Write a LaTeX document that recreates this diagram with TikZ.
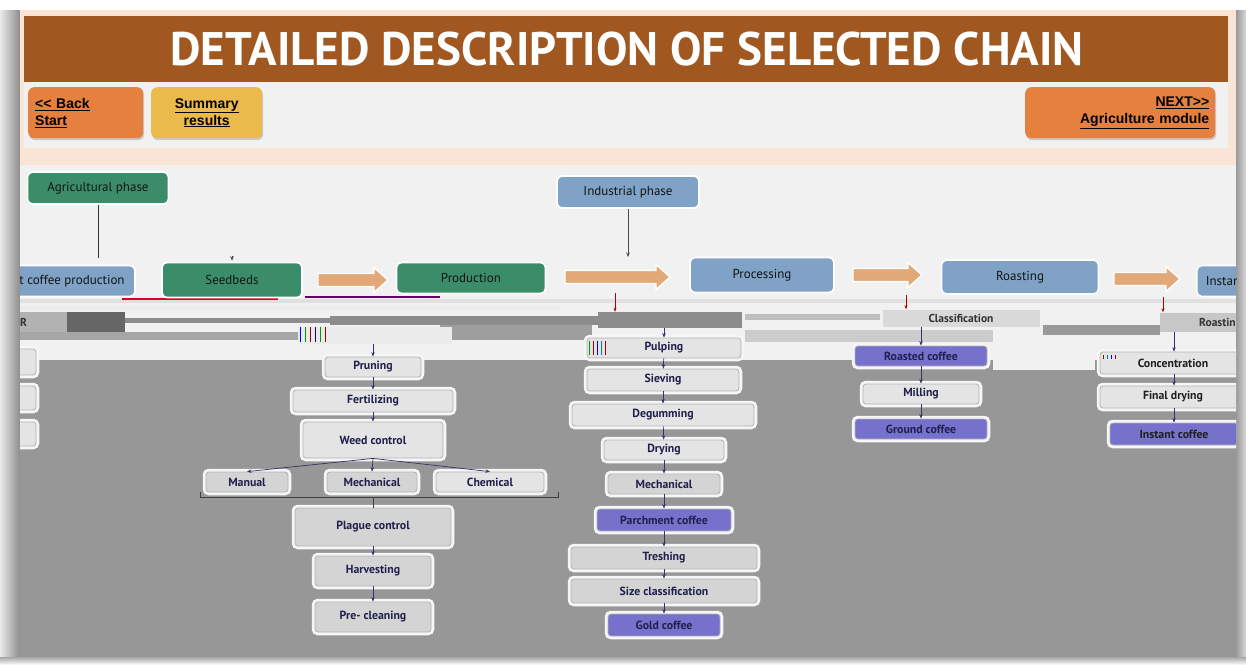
\documentclass[tikz,border=0pt]{standalone}
\usepackage{graphicx}
\usepackage{fontspec}
\setmainfont{PT Sans}
\newfontfamily\btnfont{Liberation Sans}
\usetikzlibrary{arrows.meta,shadows}

\definecolor{titlebrown}{HTML}{A15720}
\definecolor{peach}{HTML}{F9E4D6}
\definecolor{paper}{HTML}{F1F1F1}
\definecolor{lowgray}{HTML}{979797}
\definecolor{agrigreen}{HTML}{3B8D69}
\definecolor{indblue}{HTML}{7FA2C6}
\definecolor{arrowtan}{HTML}{E3A878}
\definecolor{prodpurple}{HTML}{7672CC}
\definecolor{stepgray}{HTML}{E4E4E4}
\definecolor{navytext}{HTML}{20204E}
\definecolor{btnorange}{HTML}{E6803F}
\definecolor{btnyellow}{HTML}{EBBA4C}
\definecolor{linknavy}{HTML}{34346A}
\definecolor{glowwhite}{HTML}{F6F6F6}

\newcommand\tanarrow[3]{% x-start, x-tip, y-centre
  \filldraw[fill=arrowtan, draw=white, line width=1.4pt, line join=miter]
    (#1,#3-6.5) -- (#2-14,#3-6.5) -- (#2-14,#3-12.5) -- (#2,#3)
    -- (#2-14,#3+12.5) -- (#2-14,#3+6.5) -- (#1,#3+6.5) -- cycle;}

\tikzset{
  dims/.style 2 args={minimum width=#1pt, minimum height=#2pt},
  phasebox/.style={rounded corners=5pt, draw=white, line width=1.6pt, inner sep=0pt,
    text=black!92, font=\fontsize{13}{15}\selectfont},
  greenbox/.style={phasebox, fill=agrigreen},
  bluebox/.style={phasebox, fill=indblue},
  stepbox/.style={rounded corners=3pt, fill=stepgray, draw=black!30, line width=0.8pt,
    inner sep=0pt, text=navytext, font=\bfseries\fontsize{11.8}{13}\selectfont,
    preaction={draw=glowwhite, line width=6.5pt}},
  darkstep/.style={stepbox, fill=black!17},
  prodbox/.style={stepbox, fill=prodpurple},
  button/.style={rounded corners=6pt, inner sep=0pt, align=left,
    font=\btnfont\bfseries\fontsize{14}{17}\selectfont,
    drop shadow={opacity=0.35, shadow xshift=1pt, shadow yshift=-2pt}},
  conn/.style={draw=linknavy, line width=0.7pt, -{Stealth[length=4.5pt,width=3.5pt]}},
  redconn/.style={draw=red!70!black, line width=0.7pt, -{Stealth[length=4pt,width=3pt]}},
  glitch/.style={inner sep=0pt, font=\bfseries\fontsize{11.5}{12}\selectfont, text=black!80},
}

\begin{document}
\begin{tikzpicture}[x=1pt,y=-1pt]
\useasboundingbox (0,0) rectangle (1246,665);

% page, shadow and frame
\fill[white] (0,0) rectangle (1246,665);
\shade[left color=black!8, right color=black!45] (0,10) rectangle (20,660);
\shade[left color=black!40, right color=black!15] (1236,10) rectangle (1246,660);
\shade[top color=black!35, bottom color=white] (0,657) rectangle (1246,665);
\fill[peach] (20,10) rectangle (1236,165);

% title bar and navigation strip
\fill[titlebrown] (24,16) rectangle (1228,82);
\fill[paper] (24,82) rectangle (1228,148);
\node[text=white, inner sep=0pt] (title) at (627,49)
  {\resizebox{913pt}{!}{\bfseries DETAILED DESCRIPTION OF SELECTED CHAIN}};

\node[button, fill=btnorange, dims={115}{51}, anchor=north west, text width=101pt]
  (back) at (28,87) {\underline{<{}< Back}\\\underline{Start}};
\node[button, fill=btnyellow, dims={111}{51}, anchor=north west, align=center]
  (summary) at (151,87) {\underline{Summary}\\\underline{results}};
\node[button, fill=btnorange, dims={190}{51}, anchor=north west, text width=178pt, align=right]
  (next) at (1025,87) {\underline{NEXT>{}>}\\\underline{Agriculture module}};

% chain area
\begin{scope}
\clip (20,165) rectangle (1236,657);
\fill[paper] (20,165) rectangle (1236,657);
\fill[lowgray] (20,360) rectangle (993,657);
\fill[lowgray] (993,370) rectangle (1095,657);
\fill[lowgray] (1095,360) rectangle (1236,657);

% scan-line bands below the main row
\fill[black!12] (20,299) rectangle (1236,303);
\fill[black!8] (20,306) rectangle (560,310);
\fill[black!30] (20,312) rectangle (67,332);
\fill[black!60] (67,312) rectangle (125,332);
\fill[black!45] (125,318) rectangle (330,323);
\fill[black!45] (330,316) rectangle (598,325);
\fill[black!38] (440,325) rectangle (592,340);
\fill[black!35] (20,332) rectangle (300,340);
\fill[black!25] (745,314) rectangle (880,320);
\fill[black!40] (1043,325) rectangle (1160,335);
\fill[black!20] (745,330) rectangle (993,342);
\draw[red!40!purple, line width=1.5pt] (122,299) -- (278,299);
\draw[violet!80!black, line width=1.5pt] (305,297) -- (440,297);
\node[glitch, anchor=west] (rmark) at (20,322) {R};

% partly hidden steps of the column on the far left
\node[stepbox, dims={112}{26}] (leftA) at (-20,362) {};
\node[stepbox, dims={112}{24}] (leftB) at (-20,398) {};
\node[stepbox, dims={112}{24}] (leftC) at (-20,434) {};

% phase headers
\node[greenbox, dims={141}{32}] (agri) at (98,188) {Agricultural phase};
\node[bluebox, dims={142}{32}] (ind) at (628,192) {Industrial phase};

% main chain
\node[bluebox, dims={126}{31}] (instprod) at (72,281) {t coffee production};
\node[greenbox, dims={140}{35}] (seed) at (232,280) {Seedbeds};
\node[greenbox, dims={149}{31}] (prod) at (471,278) {Production};
\node[bluebox, dims={144}{35}] (proc) at (762,275) {Processing};
\node[bluebox, dims={157}{34}] (roast) at (1020,277) {Roasting};
\node[bluebox, dims={64}{31}, anchor=west, text width=58pt, align=left] (inst) at (1196,281) {\hspace*{6pt}Instan};
\tanarrow{318}{388}{280}
\tanarrow{565}{670}{277}
\tanarrow{853}{922}{275}
\tanarrow{1114}{1180}{279}

\coordinate (agritop) at (98,258);
\coordinate (indtop) at (628,257);
\coordinate (seedtop) at (232,256);
\draw[draw=black!80, line width=0.7pt] (agri.south) -- (agritop);
\draw[conn, draw=black!70] (ind.south) -- (indtop);
\draw[conn, draw=black!70, shorten >=1pt] (seedtop) -- (seed.north);

% first-step bars under the chain
\node[glitch, fill=black!8, dims={154}{17}] (agrig) at (375,335) {};
\foreach \x/\c in {300/blue,305/green!60!black,310/red!60!black,315/blue!80!black,320/green!60!black,325/red!60!black}
  \draw[\c, line width=0.8pt] (\x,327) -- (\x,342);
\node[glitch, fill=black!45, dims={144}{16}] (procg) at (670,320) {};
\node[glitch, fill=black!15, dims={157}{17}] (class) at (961,318) {Classification};
\node[glitch, fill=black!22, dims={90}{19}, anchor=west, text width=84pt, align=left] (roastin) at (1160,322) {\hspace*{36pt}Roastin};

\coordinate (rA) at (615,0);
\coordinate (rB) at (906,0);
\coordinate (rC) at (1163,0);
\draw[redconn] (proc.south -| rA) -- (procg.north -| rA);
\draw[redconn] (roast.south -| rB) -- (class.north -| rB);
\draw[redconn] (inst.south -| rC) -- (roastin.north -| rC);

% agricultural steps
\node[stepbox, dims={96}{20}] (prun) at (373,367) {Pruning};
\node[stepbox, dims={160}{22}] (fert) at (373,401) {Fertilizing};
\node[stepbox, dims={140}{36}] (weed) at (373,440) {Weed control};
\node[darkstep, dims={82}{20}] (man) at (247,482) {Manual};
\node[darkstep, dims={90}{20}] (mech1) at (372,482) {Mechanical};
\node[stepbox, dims={108}{20}] (chem) at (490,482) {Chemical};
\node[darkstep, dims={156}{38}] (plague) at (373,527) {Plague control};
\node[darkstep, dims={116}{30}] (harv) at (373,571) {Harvesting};
\node[darkstep, dims={116}{30}] (prec) at (373,617) {Pre- cleaning};

\draw[conn] (prun.north |- agrig.south) -- (prun.north);
\draw[conn] (prun) -- (fert);
\draw[conn] (fert) -- (weed);
\draw[conn] (weed.south) -- (man.north);
\draw[conn] (weed.south) -- (mech1.north);
\draw[conn] (weed.south) -- (chem.north);
\coordinate (brL) at (200,497);
\coordinate (brR) at (558,497);
\draw[draw=black!75, line width=0.7pt] (brL) ++(0,-5) -- (brL) -- (brR) -- ++(0,-5);
\draw[draw=black!75, line width=1pt] (plague.north |- brL) -- (plague.north);
\draw[conn] (plague) -- (harv);
\draw[conn] (harv) -- (prec);

% processing steps
\node[stepbox, dims={154}{20}] (pulp) at (664,348) {Pulping};
\foreach \x/\c in {589/green!60!black,593/red!60!black,597/blue,601/teal,605/red!60!black}
  \draw[\c, line width=0.8pt] (\x,341) -- (\x,355);
\node[stepbox, dims={152}{22}] (siev) at (663,380) {Sieving};
\node[stepbox, dims={182}{22}] (degum) at (663,415) {Degumming};
\node[stepbox, dims={120}{20}] (dry) at (664,450) {Drying};
\node[darkstep, dims={112}{20}] (mech2) at (664,484) {Mechanical};
\node[prodbox, dims={134}{22}] (parch) at (664,520) {Parchment coffee};
\node[darkstep, dims={186}{22}] (tresh) at (664,558) {Treshing};
\node[darkstep, dims={186}{24}] (sizec) at (664,591) {Size classification};
\node[prodbox, dims={112}{22}] (gold) at (664,625) {Gold coffee};

\draw[conn] (pulp.north |- procg.south) -- (pulp.north);
\draw[conn] (pulp) -- (siev);
\draw[conn] (siev) -- (degum);
\draw[conn] (degum) -- (dry);
\draw[conn] (dry) -- (mech2);
\draw[conn] (mech2) -- (parch);
\draw[conn] (parch) -- (tresh);
\draw[conn] (tresh) -- (sizec);
\draw[conn] (sizec) -- (gold);

% roasting steps
\node[prodbox, dims={132}{20}] (roasted) at (921,356) {Roasted coffee};
\node[stepbox, dims={116}{20}] (mill) at (921,394) {Milling};
\node[prodbox, dims={132}{20}] (ground) at (921,429) {Ground coffee};
\draw[conn] (roasted.north |- class.south) -- (roasted.north);
\draw[conn] (roasted) -- (mill);
\draw[conn] (mill) -- (ground);

% instant coffee steps
\node[stepbox, dims={140}{22}, text=black!88] (conc) at (1170,363) {\hspace*{6pt}Concentration};
\foreach \x/\c in {1103/red!60!black,1107/teal,1111/blue,1115/red!60!black}
  \draw[\c, line width=0.8pt] (\x,355) -- (\x,359);
\node[stepbox, dims={140}{22}, text=black!88] (fdry) at (1170,397) {\hspace*{6pt}Final drying};
\node[prodbox, dims={128}{22}, text=black!88] (instc) at (1174,434) {Instant coffee};
\coordinate (cI) at (1174,0);
\draw[conn] (roastin.south -| cI) -- (conc.north -| cI);
\draw[conn] (conc.south -| cI) -- (fdry.north -| cI);
\draw[conn] (fdry.south -| cI) -- (instc.north -| cI);
\end{scope}
\end{tikzpicture}
\end{document}
